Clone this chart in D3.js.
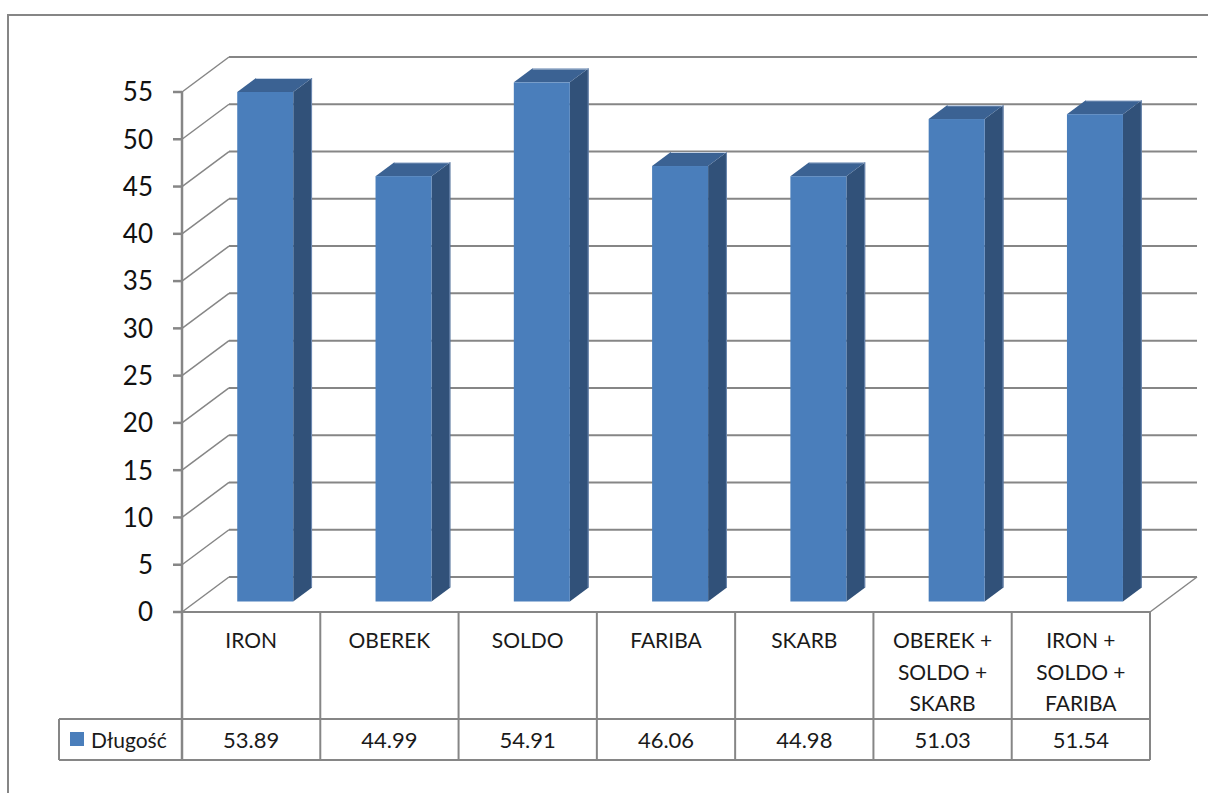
<!DOCTYPE html>
<html>
<head>
<meta charset="utf-8">
<script src="https://cdn.jsdelivr.net/npm/d3@7"></script>
<style>
  html, body { margin: 0; padding: 0; background: #fff; }
  svg { display: block; }
  text { font-family: Lato, "Open Sans", sans-serif; }
</style>
</head>
<body>
<svg id="chart" width="1208" height="793"></svg>
<script>
// Category labels, series values and axis ticks
const categories = ["IRON", "OBEREK", "SOLDO", "FARIBA", "SKARB",
                    "OBEREK + SOLDO + SKARB", "IRON + SOLDO + FARIBA"];
const values = [53.89, 44.99, 54.91, 46.06, 44.98, 51.03, 51.54];
const seriesName = "Długość";
const yTicks = [0, 5, 10, 15, 20, 25, 30, 35, 40, 45, 50, 55];

const svg = d3.select("#chart");
const grey = "#868686";

// plot geometry (front plane of the 3D box)
const left = 182, right = 1150, floorY = 612, topY = 92;
const depthX = 47, depthY = 35;          // wall depth offset
const barFrac = 0.405;                   // bar width as a share of the band
const barGap = 0.3, barDepth = 0.4;      // position of bars within depth

const x = d3.scaleBand().domain(categories).range([left, right]).padding(0);
const y = d3.scaleLinear().domain([0, 55]).range([floorY, topY]);

// outer chart frame
svg.append("path")
  .attr("d", "M8,793 V15 H1208")
  .attr("fill", "none").attr("stroke", grey).attr("stroke-width", 2);

// back wall gridlines and side-wall diagonals
const grid = svg.append("g").attr("stroke", grey).attr("fill", "none");
yTicks.forEach(t => {
  const yf = y(t), yb = y(t) - depthY;
  grid.append("line")
    .attr("x1", left + depthX).attr("x2", right + depthX)
    .attr("y1", yb).attr("y2", yb).attr("stroke-width", 2);
  grid.append("line")
    .attr("x1", left).attr("y1", yf)
    .attr("x2", left + depthX).attr("y2", yb).attr("stroke-width", 1.5);
});
// right edge of the floor
grid.append("line")
  .attr("x1", right).attr("y1", floorY)
  .attr("x2", right + depthX).attr("y2", floorY - depthY)
  .attr("stroke-width", 1.5);

// 3D columns
const bw = x.bandwidth() * barFrac;
const offX = depthX * barGap, offY = depthY * barGap;
const dX = depthX * barDepth, dY = depthY * barDepth;
const bars = svg.append("g");
categories.forEach((c, i) => {
  const x0 = x(c) + (x.bandwidth() - bw) / 2 + offX;
  const x1 = x0 + bw;
  const yb = y(0) - offY;
  const yt = y(values[i]) - offY;
  const g = bars.append("g");
  // side face
  g.append("path")
    .attr("d", `M${x1},${yb} L${x1},${yt} L${x1 + dX},${yt - dY} L${x1 + dX},${yb - dY} Z`)
    .attr("fill", "#315179");
  // top face
  g.append("path")
    .attr("d", `M${x0},${yt} L${x1},${yt} L${x1 + dX},${yt - dY} L${x0 + dX},${yt - dY} Z`)
    .attr("fill", "#3b6293");
  // light rim on the top back edge
  g.append("line")
    .attr("x1", x0 + dX).attr("y1", yt - dY + 0.5)
    .attr("x2", x1 + dX).attr("y2", yt - dY + 0.5)
    .attr("stroke", "#c3d0e2").attr("stroke-width", 1.2);
  g.append("line")
    .attr("x1", x1 + dX - 0.5).attr("y1", yt - dY)
    .attr("x2", x1 + dX - 0.5).attr("y2", yb - dY)
    .attr("stroke", "#6f8bb2").attr("stroke-width", 1);
  // front face
  g.append("rect")
    .attr("x", x0).attr("y", yt)
    .attr("width", bw).attr("height", yb - yt)
    .attr("fill", "#4a7ebb");
});

// value axis
const axisG = svg.append("g").attr("stroke", grey);
axisG.append("line")
  .attr("x1", left).attr("x2", left)
  .attr("y1", y(55)).attr("y2", 760).attr("stroke-width", 2.5);
yTicks.forEach(t => {
  axisG.append("line")
    .attr("x1", left - 9).attr("x2", left)
    .attr("y1", y(t)).attr("y2", y(t)).attr("stroke-width", 2.5);
});
svg.append("g").selectAll("text").data(yTicks).join("text")
  .attr("x", 153).attr("y", d => y(d))
  .attr("dy", "0.36em")
  .attr("text-anchor", "end")
  .attr("font-size", 26)
  .attr("fill", "#111")
  .text(d => d);

// data table under the plot
const rowTop = floorY, rowMid = 719, rowBot = 760, legendLeft = 59;
const table = svg.append("g").attr("stroke", grey).attr("stroke-width", 2);
table.append("line").attr("x1", left).attr("x2", right).attr("y1", rowTop).attr("y2", rowTop);
table.append("line").attr("x1", legendLeft).attr("x2", right).attr("y1", rowMid).attr("y2", rowMid);
table.append("line").attr("x1", legendLeft).attr("x2", right).attr("y1", rowBot).attr("y2", rowBot);
table.append("line").attr("x1", legendLeft).attr("x2", legendLeft).attr("y1", rowMid).attr("y2", rowBot);
categories.forEach(c => {
  const xr = x(c) + x.bandwidth();
  table.append("line").attr("x1", xr).attr("x2", xr).attr("y1", rowTop).attr("y2", rowBot);
});

// category header cells, wrapped at the "+" joins
const header = svg.append("g").attr("font-size", 21).attr("fill", "#1a1a1a").attr("text-anchor", "middle");
categories.forEach(c => {
  const parts = c.split(" + ");
  const lines = parts.map((p, k) => k < parts.length - 1 ? p + " +" : p);
  const t = header.append("text").attr("x", x(c) + x.bandwidth() / 2).attr("y", 648);
  lines.forEach((ln, k) => {
    t.append("tspan").attr("x", x(c) + x.bandwidth() / 2).attr("y", 648 + k * 31.5).text(ln);
  });
});

// value cells
svg.append("g").attr("font-size", 22).attr("fill", "#1a1a1a").attr("text-anchor", "middle")
  .selectAll("text").data(categories).join("text")
  .attr("x", c => x(c) + x.bandwidth() / 2)
  .attr("y", 748)
  .text((c, i) => values[i].toFixed(2));

// legend cell
svg.append("rect").attr("x", 70).attr("y", 732).attr("width", 14).attr("height", 14).attr("fill", "#4a7ebb");
svg.append("text").attr("x", 91).attr("y", 748).attr("font-size", 21).attr("fill", "#1a1a1a").text(seriesName);
</script>
</body>
</html>
